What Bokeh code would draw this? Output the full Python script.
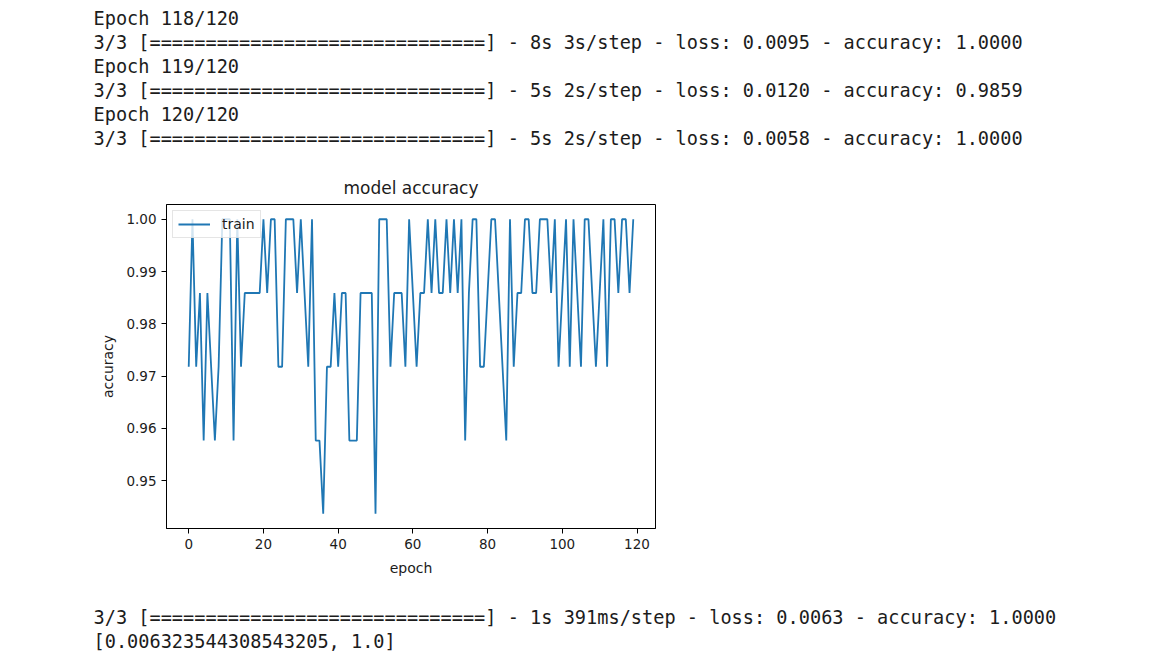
from bokeh.plotting import figure
from bokeh.models import Range1d, FixedTicker, PrintfTickFormatter, Title
from bokeh.embed import file_html
from bokeh.resources import INLINE

# ---------------- data ----------------
log_top = [
    "Epoch 118/120",
    "3/3 [==============================] - 8s 3s/step - loss: 0.0095 - accuracy: 1.0000",
    "Epoch 119/120",
    "3/3 [==============================] - 5s 2s/step - loss: 0.0120 - accuracy: 0.9859",
    "Epoch 120/120",
    "3/3 [==============================] - 5s 2s/step - loss: 0.0058 - accuracy: 1.0000",
]
log_bottom = [
    "3/3 [==============================] - 1s 391ms/step - loss: 0.0063 - accuracy: 1.0000",
    "[0.006323544308543205, 1.0]",
]
chart_title = "model accuracy"

epochs = list(range(120))
accuracy = [
    0.9718, 1.0000, 0.9718, 0.9859, 0.9577, 0.9859, 0.9718, 0.9577, 0.9718, 1.0000,
    1.0000, 1.0000, 0.9577, 1.0000, 0.9718, 0.9859, 0.9859, 0.9859, 0.9859, 0.9859,
    1.0000, 0.9859, 1.0000, 1.0000, 0.9718, 0.9718, 1.0000, 1.0000, 1.0000, 0.9859,
    1.0000, 0.9859, 0.9718, 1.0000, 0.9577, 0.9577, 0.9437, 0.9718, 0.9718, 0.9859,
    0.9718, 0.9859, 0.9859, 0.9577, 0.9577, 0.9577, 0.9859, 0.9859, 0.9859, 0.9859,
    0.9437, 1.0000, 1.0000, 1.0000, 0.9718, 0.9859, 0.9859, 0.9859, 0.9718, 1.0000,
    0.9859, 0.9718, 0.9859, 0.9859, 1.0000, 0.9859, 1.0000, 0.9859, 0.9859, 1.0000,
    0.9859, 1.0000, 0.9859, 1.0000, 0.9577, 0.9859, 1.0000, 1.0000, 0.9718, 0.9718,
    0.9859, 1.0000, 1.0000, 0.9859, 0.9718, 0.9577, 1.0000, 0.9718, 0.9859, 0.9859,
    1.0000, 1.0000, 0.9859, 0.9859, 1.0000, 1.0000, 1.0000, 0.9859, 1.0000, 0.9718,
    0.9859, 1.0000, 0.9718, 1.0000, 0.9859, 0.9718, 1.0000, 1.0000, 0.9859, 0.9718,
    0.9859, 1.0000, 0.9718, 1.0000, 1.0000, 0.9859, 1.0000, 1.0000, 0.9859, 1.0000,
]
x_ticks = [0, 20, 40, 60, 80, 100, 120]
y_ticks = [0.95, 0.96, 0.97, 0.98, 0.99, 1.00]

# ---------------- layout constants (page pixels) ----------------
W, H = 1150, 657
FRAME_L, FRAME_R, FRAME_T, FRAME_B = 166, 655, 204, 528
TEXT_X = 93
LINE_STANDOFF = 1.4       # extra space of each log line panel
TITLE_STANDOFF = 14
TOP_GAP = 15.5            # blank panel between chart title and the log above
BOTTOM_GAP = 22.5         # blank panel between x axis and the log below
MONO = "DejaVu Sans Mono"
SANS = "DejaVu Sans"
TXT = "#1c1c1c"

span_x = max(epochs) - min(epochs)
span_y = max(accuracy) - min(accuracy)
x_range = Range1d(min(epochs) - 0.05 * span_x, max(epochs) + 0.05 * span_x)
y_range = Range1d(min(accuracy) - 0.05 * span_y, max(accuracy) + 0.05 * span_y)

p = figure(width=W, height=H, x_range=x_range, y_range=y_range,
           toolbar_location=None, output_backend="svg", title_location=None,
           min_border_left=FRAME_L, min_border_right=W - FRAME_R,
           min_border_top=FRAME_T, min_border_bottom=H - FRAME_B)
p.grid.visible = False
p.outline_line_color = "black"
p.outline_line_width = 1
p.background_fill_color = "white"
p.border_fill_color = "white"

p.line(epochs, accuracy, line_color="#1f77b4", line_width=1.8, legend_label="train")

p.xaxis.ticker = FixedTicker(ticks=x_ticks)
p.yaxis.ticker = FixedTicker(ticks=y_ticks)
p.yaxis.formatter = PrintfTickFormatter(format="%.2f")
p.xaxis.axis_label = "epoch"
p.yaxis.axis_label = "accuracy"
for ax in (p.xaxis[0], p.yaxis[0]):
    ax.axis_line_color = "black"
    ax.major_tick_line_color = "black"
    ax.minor_tick_line_color = None
    ax.major_tick_in = 0
    ax.major_tick_out = 5
    ax.major_label_standoff = 5
    ax.major_label_text_font = SANS
    ax.major_label_text_font_size = "13.5px"
    ax.major_label_text_color = TXT
    ax.axis_label_text_font = SANS
    ax.axis_label_text_font_size = "14px"
    ax.axis_label_text_font_style = "normal"
    ax.axis_label_text_color = TXT
p.xaxis.axis_label_standoff = 8
p.yaxis.axis_label_standoff = 7

lg = p.legend[0]
lg.location = "top_left"
lg.margin = 6
lg.padding = 5
lg.spacing = 0
lg.glyph_width = 32
lg.glyph_height = 16
lg.label_height = 16
lg.label_standoff = 12
lg.label_text_font = SANS
lg.label_text_font_size = "14px"
lg.label_text_color = TXT
lg.border_line_color = "#cccccc"
lg.border_line_width = 1
lg.background_fill_color = "white"
lg.background_fill_alpha = 0.8


def log_line(text):
    return Title(text=text, align="left", offset=TEXT_X - FRAME_L, standoff=LINE_STANDOFF,
                 text_font=MONO, text_font_size="18.6px", text_font_style="normal",
                 text_color=TXT)


def gap(size):
    return Title(text=" ", text_font_size="1px", standoff=size, text_color="white")


# above the frame, from the frame outwards
p.add_layout(Title(text=chart_title, align="center", text_font=SANS, text_font_size="17px",
                   text_font_style="normal", text_color=TXT, standoff=TITLE_STANDOFF), "above")
p.add_layout(gap(TOP_GAP), "above")
for line in reversed(log_top):
    p.add_layout(log_line(line), "above")

# below the frame, from the frame outwards
p.add_layout(gap(BOTTOM_GAP), "below")
for line in log_bottom:
    p.add_layout(log_line(line), "below")

open("out.html", "w").write(file_html(p, INLINE))
